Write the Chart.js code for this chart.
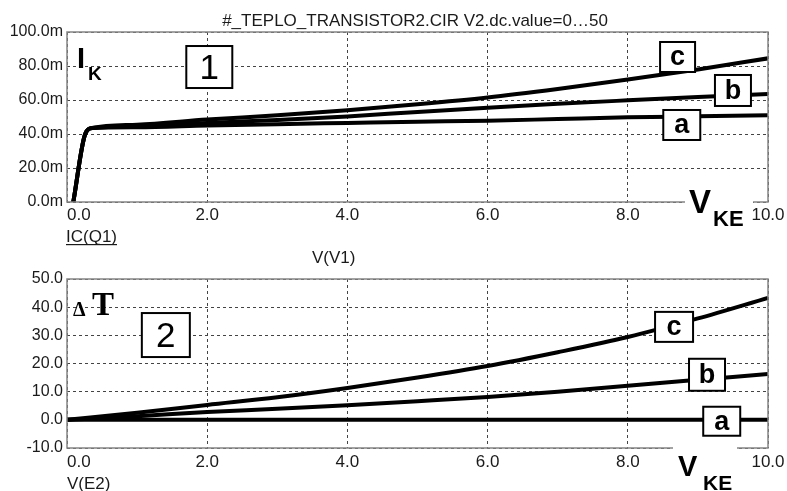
<!DOCTYPE html>
<html>
<head>
<meta charset="utf-8">
<script src="https://cdn.jsdelivr.net/npm/chart.js@4.4.1/dist/chart.umd.min.js"></script>
<style>
html, body { margin: 0; padding: 0; background: #fff; }
#wrap { position: relative; width: 787px; height: 491px; overflow: hidden; background: #fff; }
canvas { position: absolute; left: 0; }
#topChart { top: 0; }
#botChart { top: 260px; }
</style>
</head>
<body>
<div id="wrap">
  <canvas id="topChart" width="787" height="272"></canvas>
  <canvas id="botChart" width="787" height="231"></canvas>
</div>
<script>
// ================== DATA ==================
// plot 1: collector current (mA) vs V_KE (V)
const vkeTop = [0.09, 0.26, 0.36, 1, 2, 3, 4, 5, 6, 7, 8, 9, 10];
const ikA = [0, 40, 43.5, 44, 45, 45.8, 46.5, 47.2, 47.8, 48.8, 49.8, 50.4, 51];
const ikB = [0, 40, 43.5, 44.5, 46.5, 48.2, 50.3, 53, 55.5, 57.8, 59.8, 61.7, 63.5];
const ikC = [0, 40, 43.5, 45.5, 48.5, 51, 54, 57.5, 61.5, 66.5, 72, 78, 84.5];

// plot 2: temperature rise vs V_KE (V)
const vkeBot = [0, 1, 2, 3, 4, 5, 6, 7, 8, 9, 10];
const dtA = [0, 0, 0, 0, 0, 0, 0, 0, 0, 0, 0];
const dtB = [0, 1.3, 2.8, 3.9, 5.2, 6.6, 8.1, 10, 12.1, 14.2, 16.3];
const dtC = [0, 2.5, 5.3, 8, 11.3, 15, 19.1, 24, 29.4, 36, 43.3];

const xTicks = [0, 2, 4, 6, 8, 10];

const TITLE = '#_TEPLO_TRANSISTOR2.CIR V2.dc.value=0\u202650';

const SANS = '"Liberation Sans", Arial, sans-serif';
const SERIF = '"Liberation Serif", "Times New Roman", serif';

// ================== HELPERS ==================
function toPoints(xs, ys) {
    return xs.map((x, i) => ({ x: x, y: ys[i] }));
}

function curve(label, xs, ys) {
    return {
        label: label,
        data: toPoints(xs, ys),
        borderColor: '#000',
        borderWidth: 4,
        pointRadius: 0,
        fill: false,
        cubicInterpolationMode: 'monotone',
        borderCapStyle: 'butt'
    };
}

// frame, x tick labels, boxed labels and axis names
const decor = {
    id: 'decor',
    afterDraw(chart, args, o) {
        const { ctx, chartArea: a, scales: { x, y } } = chart;
        ctx.save();
        ctx.setLineDash([]);

        // plot frame
        ctx.strokeStyle = '#858585';
        ctx.lineWidth = 1.5;
        ctx.strokeRect(a.left, a.top, a.right - a.left, a.bottom - a.top);

        // gap in the bottom border behind V_KE
        ctx.fillStyle = '#fff';
        ctx.fillRect(o.gap[0], a.bottom - 4, o.gap[1] - o.gap[0], 8);

        // x tick labels
        ctx.fillStyle = '#1a1a1a';
        ctx.font = '17px ' + SANS;
        ctx.textBaseline = 'alphabetic';
        xTicks.forEach((v, i) => {
            ctx.textAlign = i === 0 ? 'left' : 'center';
            ctx.fillText(v.toFixed(1), x.getPixelForValue(v), a.bottom + o.tickGap);
        });

        // boxed labels
        o.boxes.forEach(b => {
            const cx = x.getPixelForValue(b.x);
            const cy = y.getPixelForValue(b.y);
            ctx.fillStyle = '#fff';
            ctx.fillRect(cx - b.w / 2, cy - b.h / 2, b.w, b.h);
            ctx.strokeStyle = '#000';
            ctx.lineWidth = 2;
            ctx.strokeRect(cx - b.w / 2, cy - b.h / 2, b.w, b.h);
            ctx.fillStyle = '#000';
            ctx.font = b.font;
            ctx.textAlign = 'center';
            ctx.textBaseline = 'middle';
            ctx.fillText(b.text, cx, cy + (b.dy || 0));
        });

        // free texts
        ctx.textBaseline = 'alphabetic';
        o.texts.forEach(t => {
            ctx.fillStyle = t.color || '#000';
            ctx.font = t.font;
            ctx.textAlign = t.align || 'left';
            ctx.fillText(t.text, t.x, t.y);
            if (t.underline) {
                const w = ctx.measureText(t.text).width;
                ctx.fillRect(t.x, t.y + 2, w, 1.2);
            }
        });
        ctx.restore();
    }
};

function makeOptions(yMin, yMax, step, unit, pad, decorOpts) {
    return {
        responsive: false,
        animation: false,
        events: [],
        layout: { padding: pad },
        plugins: {
            legend: { display: false },
            tooltip: { enabled: false },
            decor: decorOpts
        },
        scales: {
            x: {
                type: 'linear',
                min: 0,
                max: 10,
                ticks: { display: false, stepSize: 2 },
                grid: { color: '#444', lineWidth: 1, drawTicks: false },
                border: { display: false, dash: [3, 3] },
                afterFit: s => { s.height = 0; }
            },
            y: {
                min: yMin,
                max: yMax,
                ticks: {
                    stepSize: step,
                    padding: 4,
                    color: '#1a1a1a',
                    font: { family: SANS, size: 16 },
                    callback: v => v.toFixed(1) + unit
                },
                grid: { color: '#444', lineWidth: 1, drawTicks: false },
                border: { display: false, dash: [3, 3] },
                afterFit: s => { s.width = 67; }
            }
        }
    };
}

// ================== PLOT 1 ==================
const topChart = new Chart(document.getElementById('topChart'), {
    type: 'line',
    data: {
        datasets: [
            curve('a', vkeTop, ikA),
            curve('b', vkeTop, ikB),
            curve('c', vkeTop, ikC)
        ]
    },
    options: makeOptions(0, 100, 20, 'm', { top: 32, right: 19, bottom: 70, left: 0 }, {
        tickGap: 18,
        gap: [685, 753],
        boxes: [
            { text: '1', x: 2.03, y: 79.4, w: 46, h: 42, font: '35px ' + SANS, dy: 2 },
            { text: 'c', x: 8.71, y: 85.3, w: 35, h: 30, font: 'bold 27px ' + SANS, dy: 1 },
            { text: 'b', x: 9.5, y: 65.6, w: 36, h: 31, font: 'bold 27px ' + SANS, dy: 1 },
            { text: 'a', x: 8.77, y: 45.3, w: 37, h: 30, font: 'bold 27px ' + SANS, dy: 1 }
        ],
        texts: [
            { text: TITLE, x: 415, y: 26, font: '17px ' + SANS, align: 'center', color: '#1a1a1a' },
            { text: 'I', x: 77, y: 68, font: 'bold 29px ' + SANS },
            { text: 'K', x: 88, y: 80, font: 'bold 19px ' + SANS },
            { text: 'V', x: 689, y: 213, font: 'bold 33px ' + SANS },
            { text: 'KE', x: 713, y: 226, font: 'bold 22px ' + SANS },
            { text: 'IC(Q1)', x: 66, y: 242, font: '17px ' + SANS, color: '#1a1a1a', underline: true },
            { text: 'V(V1)', x: 312, y: 263, font: '17px ' + SANS, color: '#1a1a1a' }
        ]
    }),
    plugins: [decor]
});

// ================== PLOT 2 ==================
const botChart = new Chart(document.getElementById('botChart'), {
    type: 'line',
    data: {
        datasets: [
            curve('a', vkeBot, dtA),
            curve('b', vkeBot, dtB),
            curve('c', vkeBot, dtC)
        ]
    },
    options: makeOptions(-10, 50, 10, '', { top: 19, right: 19, bottom: 43, left: 0 }, {
        tickGap: 19,
        gap: [673, 737],
        boxes: [
            { text: '2', x: 1.41, y: 30.1, w: 48, h: 44, font: '35px ' + SANS, dy: 2 },
            { text: 'c', x: 8.66, y: 33, w: 38, h: 30, font: 'bold 27px ' + SANS, dy: 1 },
            { text: 'b', x: 9.13, y: 16, w: 36, h: 32, font: 'bold 27px ' + SANS, dy: 1 },
            { text: 'a', x: 9.34, y: -0.5, w: 37, h: 29, font: 'bold 27px ' + SANS, dy: 1 }
        ],
        texts: [
            { text: '\u0394', x: 73, y: 56, font: 'bold 20px ' + SERIF },
            { text: 'T', x: 92, y: 55, font: 'bold 33px ' + SERIF },
            { text: 'V', x: 678, y: 216, font: 'bold 29px ' + SANS },
            { text: 'KE', x: 703, y: 230, font: 'bold 21px ' + SANS },
            { text: 'V(E2)', x: 67, y: 229, font: '17px ' + SANS, color: '#1a1a1a' }
        ]
    }),
    plugins: [decor]
});
</script>
</body>
</html>
